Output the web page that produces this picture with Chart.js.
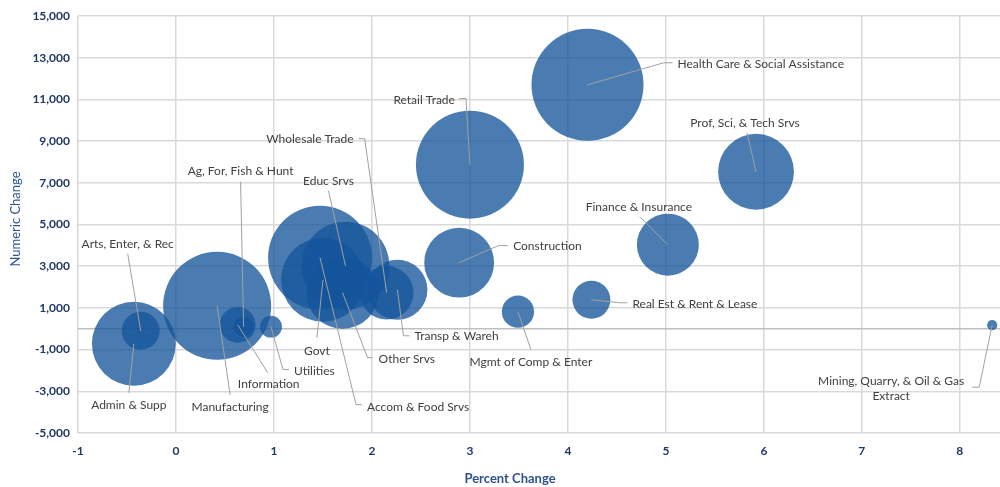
<!DOCTYPE html>
<html>
<head>
<meta charset="utf-8">
<script src="https://cdn.jsdelivr.net/npm/chart.js@4.4.1/dist/chart.umd.min.js"></script>
<style>
    html, body { margin: 0; padding: 0; background: #fff; }
</style>
</head>
<body>
<canvas id="bubbleChart" width="1000" height="487"></canvas>
<script>
// industry data
const industries = [
    'Health Care & Social Assistance', 'Retail Trade', 'Prof, Sci, & Tech Srvs', 'Finance & Insurance',
    'Construction', 'Real Est & Rent & Lease', 'Mgmt of Comp & Enter', ['Mining, Quarry, & Oil & Gas', 'Extract'],
    'Transp & Wareh', 'Wholesale Trade', 'Educ Srvs', 'Ag, For, Fish & Hunt',
    'Arts, Enter, & Rec', 'Admin & Supp', 'Manufacturing', 'Information',
    'Utilities', 'Govt', 'Accom & Food Srvs', 'Other Srvs'
];
const pctChange = [4.20, 3.00, 5.92, 5.02, 2.89, 4.24, 3.49, 8.33, 2.26, 2.15, 1.73, 0.69, -0.36, -0.43, 0.42, 0.63, 0.97, 1.50, 1.47, 1.70];
const numChange = [11700, 7870, 7530, 4030, 3170, 1390, 820, 170, 1870, 1730, 3020, 100, -100, -720, 1100, 190, 100, 2350, 3410, 1730];
// bubble size (employment, thousands, approx)
const employment = [157, 146, 72, 48, 61, 18, 13, 1.3, 45, 36, 97, 5, 18, 88, 146, 16, 6, 88, 135, 65];

const xTicks = [-1, 0, 1, 2, 3, 4, 5, 6, 7, 8];
const yTicks = [-5000, -3000, -1000, 1000, 3000, 5000, 7000, 9000, 11000, 13000, 15000];

// label placement relative to bubble centre: text offset, alignment, leader path
const labelLayout = [
    { t: [90, -21], a: 'left', l: [[76, -22], [85, -22]] },
    { t: [-15, -65], a: 'right', l: [[-4, -66], [-11, -66]] },
    { t: [-11, -49], a: 'center', l: [[-9, -39]] },
    { t: [-29, -38], a: 'center', l: [[-28, -28]] },
    { t: [54, -17], a: 'left', l: [[39, -17], [49, -17]] },
    { t: [41, 4], a: 'left', l: [[28, 3], [36, 3]] },
    { t: [13, 50], a: 'center', l: [[13, 38]] },
    { t: [-101, 56], a: 'center', l: [[-13, 62], [-20, 62]] },
    { t: [17, 46], a: 'left', l: [[6, 46], [12, 46]] },
    { t: [-33, -154], a: 'right', l: [[-22, -154], [-28, -154]] },
    { t: [-17, -85], a: 'center', l: [[-17, -75]] },
    { t: [-3, -156], a: 'center', l: [[-3, -145]] },
    { t: [-13, -87], a: 'center', l: [[-13, -77]] },
    { t: [-5, 61], a: 'center', l: [[-5, 49]] },
    { t: [13, 101], a: 'center', l: [[13, 89]] },
    { t: [31, 59], a: 'center', l: [[30, 48]] },
    { t: [23, 44], a: 'left', l: [[12, 43], [18, 43]] },
    { t: [-6, 71], a: 'center', l: [[-6, 58]] },
    { t: [47, 149], a: 'left', l: [[36, 147], [42, 147]] },
    { t: [36, 66], a: 'left', l: [[25, 65], [30, 65]] }
];

const labelPlugin = {
    id: 'bubbleLabels',
    beforeDatasetsDraw(chart) {
        const { ctx, chartArea, scales } = chart;
        const y0 = scales.y.getPixelForValue(0);
        ctx.save();
        ctx.strokeStyle = '#BFBFBF';
        ctx.lineWidth = 1.5;
        ctx.beginPath();
        ctx.moveTo(chartArea.left, y0);
        ctx.lineTo(chartArea.right, y0);
        ctx.stroke();
        ctx.restore();
    },
    afterDatasetsDraw(chart) {
        const { ctx, scales } = chart;
        ctx.save();
        ctx.font = '12px Lato';
        ctx.textBaseline = 'middle';
        industries.forEach((name, i) => {
            const cx = scales.x.getPixelForValue(pctChange[i]);
            const cy = scales.y.getPixelForValue(numChange[i]);
            const lay = labelLayout[i];
            ctx.strokeStyle = '#A0A0A0';
            ctx.lineWidth = 1;
            ctx.beginPath();
            ctx.moveTo(cx, cy);
            lay.l.forEach(p => ctx.lineTo(cx + p[0], cy + p[1]));
            ctx.stroke();
            ctx.fillStyle = '#404040';
            ctx.textAlign = lay.a;
            const lines = Array.isArray(name) ? name : [name];
            lines.forEach((txt, k) => ctx.fillText(txt, cx + lay.t[0], cy + lay.t[1] + k * 15));
        });

        // axis titles
        ctx.fillStyle = '#2F528F';
        ctx.font = 'bold 13px Lato';
        ctx.textAlign = 'center';
        ctx.fillText('Percent Change', 510, 479);
        ctx.save();
        ctx.translate(16, 219);
        ctx.rotate(-Math.PI / 2);
        ctx.font = '13px Lato';
        ctx.fillStyle = '#2B5592';
        ctx.fillText('Numeric Change', 0, 0);
        ctx.restore();
        ctx.restore();
    }
};

const tickFont = { family: 'Lato', size: 12, weight: 'bold' };

new Chart(document.getElementById('bubbleChart').getContext('2d'), {
    type: 'bubble',
    data: {
        datasets: [{
            label: 'Industries',
            data: industries.map((n, i) => ({ x: pctChange[i], y: numChange[i], r: Math.sqrt(employment[i]) * 4.47 })),
            backgroundColor: 'rgba(20, 85, 155, 0.77)',
            borderWidth: 0,
            hoverBorderWidth: 0,
            clip: false
        }]
    },
    options: {
        responsive: false,
        animation: false,
        devicePixelRatio: 1,
        layout: { autoPadding: false, padding: { top: 16, right: 0, left: 0, bottom: 0 } },
        plugins: {
            legend: { display: false },
            tooltip: { enabled: false }
        },
        scales: {
            x: {
                type: 'linear',
                min: -1,
                max: 8.41,
                afterBuildTicks: axis => { axis.ticks = xTicks.map(v => ({ value: v })); },
                afterFit: axis => { axis.height = 54; },
                grid: { color: '#D9D9D9', lineWidth: 1.5, drawTicks: false },
                border: { display: false },
                ticks: { font: tickFont, color: '#203864', padding: 11 }
            },
            y: {
                min: -5000,
                max: 15000,
                afterBuildTicks: axis => { axis.ticks = yTicks.map(v => ({ value: v })); },
                afterFit: axis => { axis.width = 78; },
                grid: { color: '#D9D9D9', lineWidth: 1.5, drawTicks: false },
                border: { display: false },
                ticks: {
                    font: tickFont,
                    color: '#203864',
                    padding: 8,
                    callback: v => v.toLocaleString('en-US')
                }
            }
        }
    },
    plugins: [labelPlugin]
});
</script>
</body>
</html>
